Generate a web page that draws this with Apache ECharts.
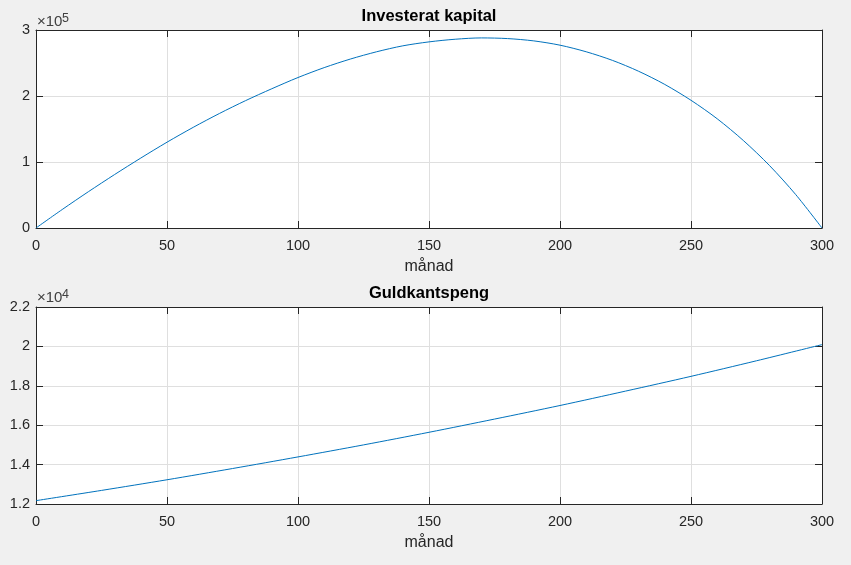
<!DOCTYPE html>
<html>
<head>
<meta charset="utf-8">
<script src="https://cdn.jsdelivr.net/npm/echarts@6/dist/echarts.min.js"></script>
<style>
html,body{margin:0;padding:0;background:#f0f0f0;}
#chart{width:851px;height:565px;}
</style>
</head>
<body>
<div id="chart"></div>
<script>
// ---- data ----
const topTitle = 'Investerat kapital';
const bottomTitle = 'Guldkantspeng';
const xLabel = 'månad';

const capitalMonths = [0,10,20,30,40,50,60,70,80,90,100,110,120,130,140,150,160,170,180,190,200,210,220,230,240,250,260,270,280,290,300];
const capitalValues = [0,28000,55000,81000,106000,130000,152500,173500,193000,211000,228000,243000,256000,267000,276000,282000,286000,288000,287000,283500,277000,267000,254000,237500,217500,193500,165500,132500,94500,50500,0];

const bonusMonths = [0,25,50,75,100,125,150,175,200,225,250,275,300];
const bonusValues = [12170,12690,13230,13800,14390,15000,15640,16310,17000,17730,18480,19270,20090];

const xTicks = {min:0, max:300, interval:50};
const topYTicks = {min:0, max:300000, interval:100000, exp:5};
const bottomYTicks = {min:12000, max:22000, interval:2000, exp:4};

// ---- chart ----
const FONT = '"Liberation Sans", Arial, Helvetica, sans-serif';
const AX = '#262626';
const GRIDC = '#dfdfdf';
const LINE = '#0072BD';

const grids = [
  {left:36, top:30, width:786, height:198},
  {left:36, top:307, width:786, height:197}
];

function pairs(xs, ys){ return xs.map((x,i)=>[x, ys[i]]); }

const lineSt = {show:true, onZero:false, lineStyle:{color:AX, width:1}};
const tickSt = {show:true, inside:true, length:7, lineStyle:{color:AX, width:1}};

const xAxes = [], yAxes = [];
[topYTicks, bottomYTicks].forEach((yt, g) => {
  xAxes.push({
    type:'value', gridIndex:g, position:'bottom', min:xTicks.min, max:xTicks.max, interval:xTicks.interval,
    axisLine:lineSt, axisTick:tickSt,
    axisLabel:{color:AX, fontSize:14.5, fontFamily:FONT, margin:10},
    splitLine:{show:true, lineStyle:{color:GRIDC, width:1}},
    name:xLabel, nameLocation:'middle', nameGap:31,
    nameTextStyle:{color:AX, fontSize:16, fontFamily:FONT}
  });
  xAxes.push({
    type:'value', gridIndex:g, position:'top', min:xTicks.min, max:xTicks.max, interval:xTicks.interval,
    axisLine:lineSt, axisTick:tickSt,
    axisLabel:{show:false}, splitLine:{show:false}
  });
  const div = Math.pow(10, yt.exp);
  yAxes.push({
    type:'value', gridIndex:g, position:'left', min:yt.min, max:yt.max, interval:yt.interval,
    axisLine:lineSt, axisTick:tickSt,
    axisLabel:{color:AX, fontSize:14.5, fontFamily:FONT, margin:6,
      formatter: v => String(+(v/div).toFixed(1))},
    splitLine:{show:true, lineStyle:{color:GRIDC, width:1}}
  });
  yAxes.push({
    type:'value', gridIndex:g, position:'right', min:yt.min, max:yt.max, interval:yt.interval,
    axisLine:lineSt, axisTick:tickSt,
    axisLabel:{show:false}, splitLine:{show:false}
  });
});

function expLabel(x, cy, e){
  return [
    {type:'text', x:x, y:cy, silent:true,
      style:{text:'×10', fill:'#404040', font:'15px '+FONT, textAlign:'left', textVerticalAlign:'middle'}},
    {type:'text', x:x+25, y:cy-3, silent:true,
      style:{text:String(e), fill:'#404040', font:'12.5px '+FONT, textAlign:'left', textVerticalAlign:'middle'}}
  ];
}

const option = {
  animation:false,
  backgroundColor:'#f0f0f0',
  grid: grids.map(g => Object.assign({show:true, backgroundColor:'#ffffff', borderWidth:0}, g)),
  xAxis: xAxes,
  yAxis: yAxes,
  graphic: [
    {type:'text', x:429, y:16, silent:true,
      style:{text:topTitle, fill:'#000', font:'bold 16.5px '+FONT, textAlign:'center', textVerticalAlign:'middle'}},
    {type:'text', x:429, y:293, silent:true,
      style:{text:bottomTitle, fill:'#000', font:'bold 16.5px '+FONT, textAlign:'center', textVerticalAlign:'middle'}}
  ].concat(expLabel(37, 21.5, topYTicks.exp), expLabel(37, 297.5, bottomYTicks.exp)),
  series: [
    {type:'line', xAxisIndex:0, yAxisIndex:0, data:pairs(capitalMonths, capitalValues),
      showSymbol:false, smooth:0.3, lineStyle:{color:LINE, width:1}, silent:true},
    {type:'line', xAxisIndex:2, yAxisIndex:2, data:pairs(bonusMonths, bonusValues),
      showSymbol:false, smooth:0.3, lineStyle:{color:LINE, width:1}, silent:true}
  ]
};

const chart = echarts.init(document.getElementById('chart'), null, {renderer:'canvas'});
chart.setOption(option);
</script>
</body>
</html>
